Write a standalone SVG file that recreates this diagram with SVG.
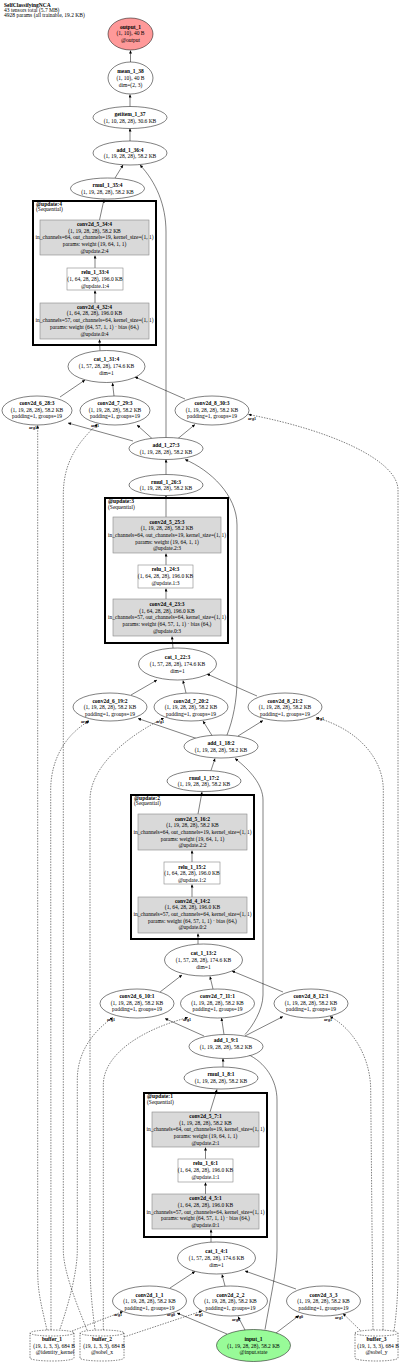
<svg xmlns="http://www.w3.org/2000/svg" width="400" height="1364" viewBox="0 0 400 1364">
<style>
text{font-family:"Liberation Serif","Times New Roman",serif;font-size:5.5px;fill:#000}
.c{text-anchor:middle}
.b{font-weight:bold}
.n{fill:#fff;stroke:#000;stroke-width:0.5}
.g{fill:#d9d9d9;stroke:#888;stroke-width:0.6}
.w{fill:#fff;stroke:#888;stroke-width:0.6}
.m{fill:none;stroke:#000;stroke-width:2}
.buf{fill:#fff;stroke:#000;stroke-width:0.5;stroke-dasharray:1.5,1.2}
#edges path{fill:none;stroke:#000;stroke-width:0.5;marker-end:url(#a)}
#edges path.d{stroke-dasharray:1.5,1.2}
.lb{font-size:4px;font-weight:bold;text-anchor:middle}
</style>
<defs>
<marker id="a" viewBox="0 0 10 10" refX="10" refY="5" markerWidth="3.5" markerHeight="3" markerUnits="userSpaceOnUse" orient="auto"><path d="M0,0L10,5L0,10z" fill="#000"/></marker>
</defs>
<rect width="400" height="1364" fill="#fff"/>
<g id="header">
<text x="4" y="6.5" class="b">SelfClassifyingNCA</text>
<text x="4" y="11.5">43 tensors total (5.7 MB)</text>
<text x="4" y="16.5">4928 params (all trainable, 19.2 KB)</text>
</g>
<g id="modules">
<g id="update4"><rect class="m" x="33" y="201" width="123" height="144"/><text x="36" y="205.7" class="b">@update:4</text><text x="36" y="211">(Sequential)</text></g>
<g id="update3"><rect class="m" x="105" y="498" width="123" height="145"/><text x="108" y="503.3" class="b">@update:3</text><text x="108" y="508.5">(Sequential)</text></g>
<g id="update2"><rect class="m" x="131" y="795" width="123" height="144"/><text x="134" y="799.7" class="b">@update:2</text><text x="134" y="805">(Sequential)</text></g>
<g id="update1"><rect class="m" x="144" y="1093" width="123" height="144"/><text x="147" y="1098.3" class="b">@update:1</text><text x="147" y="1103.5">(Sequential)</text></g>
</g>
<g id="edges">
<path d="M130.5,62 L130.5,50.5"/>
<path d="M130,106.5 L130,94.5"/>
<path d="M130,141 L130,128.5"/>
<path d="M115,178 L123,165"/>
<path d="M166,437.5 L166,232 C166,205 156,182 140,165"/>
<path d="M99.5,220 L104,199.5"/>
<path d="M95,268 L95,255.5"/>
<path d="M95,303 L95,290.5"/>
<path d="M100,350.5 L99.5,339.5"/>
<path d="M60,397 L85,380"/>
<path d="M114,396 L112.5,383"/>
<path d="M185,399 L135,377"/>
<path d="M133,441 L68,423"/>
<path d="M152,438.5 L137,425"/>
<path d="M178,438.5 L195,424.5"/>
<path d="M166,474.5 L166,459.5"/>
<path d="M166,517 L166,495.5"/>
<path d="M166,565 L166,553.5"/>
<path d="M166,599 L166,588.5"/>
<path d="M173,648 L172,636.5"/>
<path d="M131,695 L157,680"/>
<path d="M186,693 L183,680.5"/>
<path d="M257,696 L207,674"/>
<path d="M198,739 L138,718.5"/>
<path d="M212,735.5 L203,721"/>
<path d="M238,736 L263,720.5"/>
<path d="M227,735 C233,720 237,700 237,680 L237,525 C237,495 210,470 185,459.5"/>
<path d="M211,770.5 L215,758.5"/>
<path d="M198,814 L202,792"/>
<path d="M192,862 L192,850.5"/>
<path d="M192,897 L192,884.5"/>
<path d="M198,944 L198,933.5"/>
<path d="M160,992 L182,975"/>
<path d="M213,989 L210,976.5"/>
<path d="M283,992 L232,971"/>
<path d="M204,1036 L165,1018.5"/>
<path d="M224,1034.5 L221.5,1018"/>
<path d="M245,1036 L283,1016.5"/>
<path d="M245,1034.5 C252,1027 263,1010 263,995 L263,800 C263,785 250,770 235,758.5"/>
<path d="M223,1067 L223,1058.5"/>
<path d="M210,1112 L217,1089.5"/>
<path d="M205.5,1159 L205.5,1147.5"/>
<path d="M205.5,1194 L205.5,1182.5"/>
<path d="M211,1242 L211,1229.5"/>
<path d="M170,1288 L195,1271.5"/>
<path d="M225,1286 L222,1274.5"/>
<path d="M296,1289 L245,1271"/>
<path d="M227,1334 L177,1313"/>
<path d="M245,1330 L238,1316.5"/>
<path d="M276,1333 L299,1315.5"/>
<path d="M265,1329.5 C270,1300 277,1270 277,1250 L277,1100 C277,1080 265,1062 247,1054"/>
<path class="d" d="M47,1330 C40,1300 37.7,1290 37.7,1270 L37.7,425.5"/>
<path class="d" d="M51,1330 L50.7,790 C50.7,760 65,735 89,721"/>
<path class="d" d="M60,1329 C70,1300 77.3,1270 77.3,1250 L77.3,1080 C77.3,1050 95,1030 113,1017.5"/>
<path class="d" d="M72,1331 L123,1311.5"/>
<path class="d" d="M87,1330 C75,1300 63.3,1270 63.3,1250 L63.3,495 C63.3,465 75,445 97.5,424"/>
<path class="d" d="M95,1329.5 C91,1300 90,1280 90,1260 L90,800 C90,770 120,740 164,718"/>
<path class="d" d="M103.3,1330 L103.3,1085 C103.3,1055 140,1030 188,1017.5"/>
<path class="d" d="M124,1337 L202,1311"/>
<path class="d" d="M362,1332 L343,1313.5"/>
<path class="d" d="M373,1330 L370.7,1090 C370.7,1060 355,1030 330,1016.5"/>
<path class="d" d="M383,1330 L383.3,790 C383.3,760 360,730 316,717.5"/>
<path class="d" d="M394,1331 C397,1310 398,1290 398,1270 L398,490 C398,460 330,430 248.5,414.5"/>
</g>
<g id="edge-labels">
<text class="lb" x="33" y="429">arg1</text>
<text class="lb" x="95" y="427">arg1</text>
<text class="lb" x="252" y="420">arg1</text>
<text class="lb" x="85" y="723">arg1</text>
<text class="lb" x="160" y="723">arg1</text>
<text class="lb" x="320" y="720">arg1</text>
<text class="lb" x="111" y="1021">arg1</text>
<text class="lb" x="187" y="1021">arg1</text>
<text class="lb" x="328" y="1021">arg1</text>
<text class="lb" x="118" y="1316">arg1</text>
<text class="lb" x="199" y="1316">arg1</text>
<text class="lb" x="339" y="1319">arg1</text>
<text class="lb" x="171" y="1316">arg0</text>
<text class="lb" x="236" y="1321">arg0</text>
<text class="lb" x="299" y="1318">arg0</text>
</g>
<g id="output_1"><ellipse cx="130.5" cy="34" rx="22.5" ry="16" fill="#ff9999" stroke="#000" stroke-width="0.5"/><text class="c b" x="130.5" y="28.7">output_1</text><text class="c" x="130.5" y="35.3">(1, 10), 40 B</text><text class="c" x="130.5" y="42">@output</text></g>
<g id="mean_1_38"><ellipse class="n" cx="130.5" cy="78" rx="22.5" ry="16"/><text class="c b" x="130.5" y="73.3">mean_1_38</text><text class="c" x="130.5" y="80">(1, 10), 40 B</text><text class="c" x="130.5" y="86.7">dim=(2, 3)</text></g>
<g id="getitem_1_37"><ellipse class="n" cx="130" cy="117.5" rx="37" ry="11"/><text class="c b" x="130" y="116.2">getitem_1_37</text><text class="c" x="130" y="122.8">(1, 10, 28, 28), 30.6 KB</text></g>
<g id="add_1_36"><ellipse class="n" cx="130" cy="153" rx="37" ry="12"/><text class="c b" x="130" y="151.7">add_1_36:4</text><text class="c" x="130" y="158.3">(1, 19, 28, 28), 58.2 KB</text></g>
<g id="rmul_1_35"><ellipse class="n" cx="107.5" cy="188.5" rx="37" ry="10.5"/><text class="c b" x="107.5" y="187.2">rmul_1_35:4</text><text class="c" x="107.5" y="193.8">(1, 19, 28, 28), 58.2 KB</text></g>
<g id="conv2d_5_34"><rect class="g" x="40" y="220" width="109" height="35"/><text class="c b" x="94.5" y="226">conv2d_5_34:4</text><text class="c" x="94.5" y="232.7">(1, 19, 28, 28), 58.2 KB</text><text class="c" x="94.5" y="239.4">in_channels=64, out_channels=19, kernel_size=(1, 1)</text><text class="c" x="94.5" y="246.1">params: weight (19, 64, 1, 1)</text><text class="c" x="94.5" y="252.8">@update.2:4</text></g>
<g id="relu_1_33"><rect class="w" x="67" y="268" width="56" height="22"/><text class="c b" x="95" y="273.7">relu_1_33:4</text><text class="c" x="95" y="280.6">(1, 64, 28, 28), 196.0 KB</text><text class="c" x="95" y="287.5">@update.1:4</text></g>
<g id="conv2d_4_32"><rect class="g" x="40" y="303" width="109" height="36"/><text class="c b" x="94.5" y="308.7">conv2d_4_32:4</text><text class="c" x="94.5" y="315.4">(1, 64, 28, 28), 196.0 KB</text><text class="c" x="94.5" y="322.1">in_channels=57, out_channels=64, kernel_size=(1, 1)</text><text class="c" x="94.5" y="328.8">params: weight (64, 57, 1, 1) · bias (64,)</text><text class="c" x="94.5" y="335.5">@update.0:4</text></g>
<g id="cat_1_31"><ellipse class="n" cx="106.5" cy="366.5" rx="38.5" ry="16"/><text class="c b" x="106.5" y="361.2">cat_1_31:4</text><text class="c" x="106.5" y="367.9">(1, 57, 28, 28), 174.6 KB</text><text class="c" x="106.5" y="374.6">dim=1</text></g>
<g id="conv2d_6_28"><ellipse class="n" cx="37" cy="410.5" rx="35" ry="14.5"/><text class="c b" x="37" y="405">conv2d_6_28:3</text><text class="c" x="37" y="411.7">(1, 19, 28, 28), 58.2 KB</text><text class="c" x="37" y="418.4">padding=1, groups=19</text></g>
<g id="conv2d_7_29"><ellipse class="n" cx="115" cy="410.5" rx="35" ry="14.5"/><text class="c b" x="115" y="405">conv2d_7_29:3</text><text class="c" x="115" y="411.7">(1, 19, 28, 28), 58.2 KB</text><text class="c" x="115" y="418.4">padding=1, groups=19</text></g>
<g id="conv2d_8_30"><ellipse class="n" cx="212" cy="410.5" rx="37" ry="14.5"/><text class="c b" x="212" y="405">conv2d_8_30:3</text><text class="c" x="212" y="411.7">(1, 19, 28, 28), 58.2 KB</text><text class="c" x="212" y="418.4">padding=1, groups=19</text></g>
<g id="add_1_27"><ellipse class="n" cx="166" cy="448.5" rx="37" ry="11"/><text class="c b" x="166" y="447.2">add_1_27:3</text><text class="c" x="166" y="453.8">(1, 19, 28, 28), 58.2 KB</text></g>
<g id="rmul_1_26"><ellipse class="n" cx="166" cy="485" rx="37" ry="10.5"/><text class="c b" x="166" y="483.7">rmul_1_26:3</text><text class="c" x="166" y="490.3">(1, 19, 28, 28), 58.2 KB</text></g>
<g id="conv2d_5_25"><rect class="g" x="113" y="517" width="108" height="36"/><text class="c b" x="167" y="523.5">conv2d_5_25:3</text><text class="c" x="167" y="530.2">(1, 19, 28, 28), 58.2 KB</text><text class="c" x="167" y="536.9">in_channels=64, out_channels=19, kernel_size=(1, 1)</text><text class="c" x="167" y="543.6">params: weight (19, 64, 1, 1)</text><text class="c" x="167" y="550.3">@update.2:3</text></g>
<g id="relu_1_24"><rect class="w" x="138" y="565" width="55" height="23"/><text class="c b" x="165.5" y="571">relu_1_24:3</text><text class="c" x="165.5" y="577.9">(1, 64, 28, 28), 196.0 KB</text><text class="c" x="165.5" y="584.8">@update.1:3</text></g>
<g id="conv2d_4_23"><rect class="g" x="113" y="599" width="108" height="37"/><text class="c b" x="167" y="606">conv2d_4_23:3</text><text class="c" x="167" y="612.7">(1, 64, 28, 28), 196.0 KB</text><text class="c" x="167" y="619.4">in_channels=57, out_channels=64, kernel_size=(1, 1)</text><text class="c" x="167" y="626.1">params: weight (64, 57, 1, 1) · bias (64,)</text><text class="c" x="167" y="632.8">@update.0:3</text></g>
<g id="cat_1_22"><ellipse class="n" cx="177.5" cy="664" rx="39" ry="16"/><text class="c b" x="177.5" y="659.2">cat_1_22:3</text><text class="c" x="177.5" y="665.9">(1, 57, 28, 28), 174.6 KB</text><text class="c" x="177.5" y="672.6">dim=1</text></g>
<g id="conv2d_6_19"><ellipse class="n" cx="110" cy="707" rx="37" ry="14"/><text class="c b" x="110" y="702.5">conv2d_6_19:2</text><text class="c" x="110" y="709.2">(1, 19, 28, 28), 58.2 KB</text><text class="c" x="110" y="715.9">padding=1, groups=19</text></g>
<g id="conv2d_7_20"><ellipse class="n" cx="191" cy="707" rx="37" ry="14"/><text class="c b" x="191" y="702.5">conv2d_7_20:2</text><text class="c" x="191" y="709.2">(1, 19, 28, 28), 58.2 KB</text><text class="c" x="191" y="715.9">padding=1, groups=19</text></g>
<g id="conv2d_8_21"><ellipse class="n" cx="285" cy="707" rx="37" ry="14"/><text class="c b" x="285" y="702.5">conv2d_8_21:2</text><text class="c" x="285" y="709.2">(1, 19, 28, 28), 58.2 KB</text><text class="c" x="285" y="715.9">padding=1, groups=19</text></g>
<g id="add_1_18"><ellipse class="n" cx="221" cy="746.5" rx="37" ry="11.5"/><text class="c b" x="221" y="745">add_1_18:2</text><text class="c" x="221" y="751.7">(1, 19, 28, 28), 58.2 KB</text></g>
<g id="rmul_1_17"><ellipse class="n" cx="204" cy="781" rx="37" ry="10.5"/><text class="c b" x="204" y="779.5">rmul_1_17:2</text><text class="c" x="204" y="786.2">(1, 19, 28, 28), 58.2 KB</text></g>
<g id="conv2d_5_16"><rect class="g" x="138" y="814" width="109" height="36"/><text class="c b" x="192.5" y="820.7">conv2d_5_16:2</text><text class="c" x="192.5" y="827.3">(1, 19, 28, 28), 58.2 KB</text><text class="c" x="192.5" y="834">in_channels=64, out_channels=19, kernel_size=(1, 1)</text><text class="c" x="192.5" y="840.7">params: weight (19, 64, 1, 1)</text><text class="c" x="192.5" y="847.3">@update.2:2</text></g>
<g id="relu_1_15"><rect class="w" x="164" y="862" width="56" height="22"/><text class="c b" x="192" y="868.7">relu_1_15:2</text><text class="c" x="192" y="875.3">(1, 64, 28, 28), 196.0 KB</text><text class="c" x="192" y="882">@update.1:2</text></g>
<g id="conv2d_4_14"><rect class="g" x="138" y="897" width="109" height="36"/><text class="c b" x="192.5" y="903">conv2d_4_14:2</text><text class="c" x="192.5" y="909.3">(1, 64, 28, 28), 196.0 KB</text><text class="c" x="192.5" y="916">in_channels=57, out_channels=64, kernel_size=(1, 1)</text><text class="c" x="192.5" y="922.7">params: weight (64, 57, 1, 1) · bias (64,)</text><text class="c" x="192.5" y="929.3">@update.0:2</text></g>
<g id="cat_1_13"><ellipse class="n" cx="203.5" cy="960" rx="39" ry="16"/><text class="c b" x="203.5" y="955.3">cat_1_13:2</text><text class="c" x="203.5" y="962">(1, 57, 28, 28), 174.6 KB</text><text class="c" x="203.5" y="968.7">dim=1</text></g>
<g id="conv2d_6_10"><ellipse class="n" cx="137" cy="1003.5" rx="37" ry="14.5"/><text class="c b" x="137" y="998">conv2d_6_10:1</text><text class="c" x="137" y="1004.7">(1, 19, 28, 28), 58.2 KB</text><text class="c" x="137" y="1011.4">padding=1, groups=19</text></g>
<g id="conv2d_7_11"><ellipse class="n" cx="217.5" cy="1003.5" rx="37" ry="14.5"/><text class="c b" x="217.5" y="998">conv2d_7_11:1</text><text class="c" x="217.5" y="1004.7">(1, 19, 28, 28), 58.2 KB</text><text class="c" x="217.5" y="1011.4">padding=1, groups=19</text></g>
<g id="conv2d_8_12"><ellipse class="n" cx="311" cy="1003.5" rx="37" ry="14.5"/><text class="c b" x="311" y="998">conv2d_8_12:1</text><text class="c" x="311" y="1004.7">(1, 19, 28, 28), 58.2 KB</text><text class="c" x="311" y="1011.4">padding=1, groups=19</text></g>
<g id="add_1_9"><ellipse class="n" cx="226" cy="1046.5" rx="37" ry="12"/><text class="c b" x="226" y="1042.3">add_1_9:1</text><text class="c" x="226" y="1049">(1, 19, 28, 28), 58.2 KB</text></g>
<g id="rmul_1_8"><ellipse class="n" cx="221" cy="1078" rx="37" ry="11"/><text class="c b" x="221" y="1076.3">rmul_1_8:1</text><text class="c" x="221" y="1083">(1, 19, 28, 28), 58.2 KB</text></g>
<g id="conv2d_5_7"><rect class="g" x="152" y="1112" width="107" height="35"/><text class="c b" x="205.5" y="1118">conv2d_5_7:1</text><text class="c" x="205.5" y="1124.7">(1, 19, 28, 28), 58.2 KB</text><text class="c" x="205.5" y="1131.3">in_channels=64, out_channels=19, kernel_size=(1, 1)</text><text class="c" x="205.5" y="1138">params: weight (19, 64, 1, 1)</text><text class="c" x="205.5" y="1144.7">@update.2:1</text></g>
<g id="relu_1_6"><rect class="w" x="178" y="1159" width="55" height="23"/><text class="c b" x="205.5" y="1165.3">relu_1_6:1</text><text class="c" x="205.5" y="1172">(1, 64, 28, 28), 196.0 KB</text><text class="c" x="205.5" y="1178.7">@update.1:1</text></g>
<g id="conv2d_4_5"><rect class="g" x="152" y="1194" width="107" height="35"/><text class="c b" x="205.5" y="1200.3">conv2d_4_5:1</text><text class="c" x="205.5" y="1207">(1, 64, 28, 28), 196.0 KB</text><text class="c" x="205.5" y="1213.7">in_channels=57, out_channels=64, kernel_size=(1, 1)</text><text class="c" x="205.5" y="1220.3">params: weight (64, 57, 1, 1) · bias (64,)</text><text class="c" x="205.5" y="1227">@update.0:1</text></g>
<g id="cat_1_4"><ellipse class="n" cx="216.5" cy="1258" rx="39" ry="16"/><text class="c b" x="216.5" y="1253.3">cat_1_4:1</text><text class="c" x="216.5" y="1260">(1, 57, 28, 28), 174.6 KB</text><text class="c" x="216.5" y="1266.7">dim=1</text></g>
<g id="conv2d_1_1"><ellipse class="n" cx="149.5" cy="1301" rx="37" ry="15"/><text class="c b" x="149.5" y="1296.7">conv2d_1_1</text><text class="c" x="149.5" y="1303.3">(1, 19, 28, 28), 58.2 KB</text><text class="c" x="149.5" y="1310">padding=1, groups=19</text></g>
<g id="conv2d_2_2"><ellipse class="n" cx="230.5" cy="1301" rx="37" ry="15"/><text class="c b" x="230.5" y="1296.7">conv2d_2_2</text><text class="c" x="230.5" y="1303.3">(1, 19, 28, 28), 58.2 KB</text><text class="c" x="230.5" y="1310">padding=1, groups=19</text></g>
<g id="conv2d_3_3"><ellipse class="n" cx="323.5" cy="1301" rx="37" ry="15"/><text class="c b" x="323.5" y="1296.7">conv2d_3_3</text><text class="c" x="323.5" y="1303.3">(1, 19, 28, 28), 58.2 KB</text><text class="c" x="323.5" y="1310">padding=1, groups=19</text></g>
<g id="input_1"><ellipse cx="253.5" cy="1345.5" rx="37" ry="16" fill="#98fb98" stroke="#000" stroke-width="0.5"/><text class="c b" x="253.5" y="1341">input_1</text><text class="c" x="253.5" y="1347.7">(1, 19, 28, 28), 58.2 KB</text><text class="c" x="253.5" y="1354.3">@input.state</text></g>
<g id="buffer_1"><path class="buf" d="M30,1333 A22,3 0 0 0 74,1333 A22,3 0 0 0 30,1333 L30,1358 A22,3 0 0 0 74,1358 L74,1333"/><text class="c b" x="52" y="1341">buffer_1</text><text class="c" x="54" y="1347.7">(19, 1, 3, 3), 684 B</text><text class="c" x="55" y="1354.3">@identity_kernel</text></g>
<g id="buffer_2"><path class="buf" d="M80,1333 A22,3 0 0 0 124,1333 A22,3 0 0 0 80,1333 L80,1358 A22,3 0 0 0 124,1358 L124,1333"/><text class="c b" x="102" y="1341">buffer_2</text><text class="c" x="104" y="1347.7">(19, 1, 3, 3), 684 B</text><text class="c" x="102" y="1354.3">@sobel_x</text></g>
<g id="buffer_3"><path class="buf" d="M355,1333 A21.5,3 0 0 0 398,1333 A21.5,3 0 0 0 355,1333 L355,1358 A21.5,3 0 0 0 398,1358 L398,1333"/><text class="c b" x="376.5" y="1341">buffer_3</text><text class="c" x="378" y="1347.7">(19, 1, 3, 3), 684 B</text><text class="c" x="376.5" y="1354.3">@sobel_y</text></g>
</svg>
